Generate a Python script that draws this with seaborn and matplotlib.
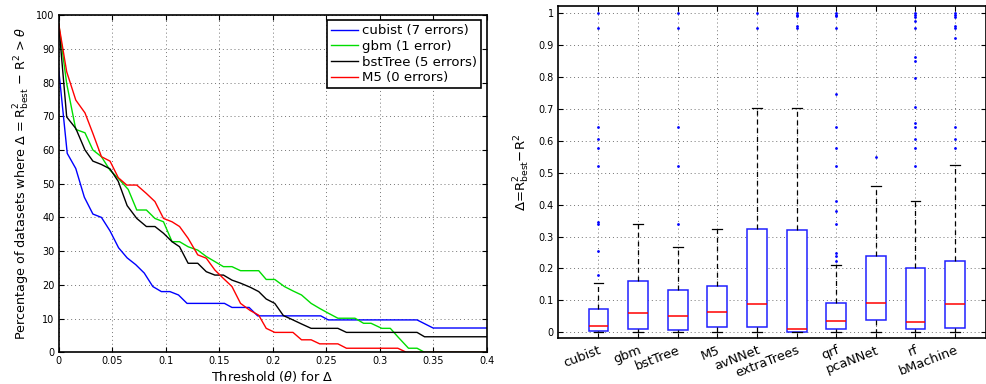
import numpy as np
import pandas as pd
import matplotlib
matplotlib.use('Agg')
import matplotlib.pyplot as plt
from matplotlib.ticker import FuncFormatter
import seaborn as sns

# ---- left panel: curves (threshold, % of datasets)
cubist_x = [0, 0.008, 0.016, 0.024, 0.032, 0.04, 0.048, 0.056, 0.064, 0.072, 0.08, 0.088, 0.096,
            0.104, 0.112, 0.12, 0.155, 0.162, 0.178, 0.186, 0.245, 0.252, 0.335, 0.35, 0.4]
cubist_y = [84, 59, 54.5, 46, 41, 40, 36, 31, 28, 26, 23.5, 19.5, 18,
            18, 17, 14.5, 14.5, 13.3, 13.3, 10.8, 10.8, 9.6, 9.6, 7.2, 7.2]

gbm_x = [0, 0.0075, 0.016, 0.0246, 0.032, 0.04, 0.048, 0.0557, 0.065, 0.073, 0.082, 0.09, 0.098,
         0.106, 0.113, 0.121, 0.13, 0.138, 0.146, 0.154, 0.162, 0.17, 0.187, 0.194, 0.202, 0.211,
         0.219, 0.227, 0.236, 0.244, 0.252, 0.261, 0.277, 0.285, 0.292, 0.302, 0.31, 0.317, 0.327,
         0.335, 0.342, 0.4]
gbm_y = [97.5, 79.7, 66.1, 65.1, 60, 58, 54, 51.6, 48.3, 42.2, 42.2, 39.7, 38.7,
         32.8, 32.8, 31.3, 30.3, 28.4, 26.9, 25.4, 25.4, 24.2, 24.2, 21.6, 21.6, 19.5,
         18.2, 17, 14.5, 13, 11.6, 10.1, 10.1, 8.6, 8.6, 7.1, 7.1, 4.6, 1.2,
         1.2, 0, 0]

bst_x = [0, 0.0075, 0.016, 0.0246, 0.032, 0.04, 0.048, 0.0557, 0.064, 0.073, 0.082, 0.09, 0.098,
         0.106, 0.113, 0.121, 0.13, 0.138, 0.146, 0.154, 0.162, 0.17, 0.179, 0.187, 0.194, 0.202,
         0.21, 0.219, 0.227, 0.236, 0.261, 0.269, 0.335, 0.342, 0.4]
bst_y = [97.5, 69.8, 66.4, 60, 56.7, 55.7, 54.4, 50.7, 43.5, 39.7, 37.3, 37.3, 35.3,
         32.8, 31.3, 26.4, 26.4, 23.9, 22.9, 22.9, 21.4, 20.5, 19.3, 18, 15.8, 14.5,
         10.9, 9.6, 8.4, 7.1, 7.1, 5.9, 5.9, 4.6, 4.6]

m5_x = [0, 0.0075, 0.016, 0.0246, 0.032, 0.04, 0.048, 0.0557, 0.0636, 0.073, 0.082, 0.09, 0.098,
        0.106, 0.113, 0.121, 0.13, 0.138, 0.146, 0.154, 0.162, 0.17, 0.179, 0.187, 0.194, 0.202,
        0.219, 0.227, 0.236, 0.244, 0.261, 0.269, 0.317, 0.325, 0.4]
m5_y = [97.5, 83.2, 74.8, 71, 64.9, 58, 56.7, 51.8, 49.6, 49.6, 47.1, 44.7, 39.7,
        38.7, 37.3, 33.8, 28.9, 27.9, 24.4, 21.9, 19.5, 14.5, 12.4, 11, 7.1, 5.9,
        5.9, 3.7, 3.7, 2.5, 2.5, 1.2, 1.2, 0, 0]

series_labels = ['cubist (7 errors)', 'gbm (1 error)', 'bstTree (5 errors)', 'M5 (0 errors)']
series_colors = ['#0000ff', '#00dd00', '#000000', '#ff0000']

# ---- right panel: box summaries
models = ['cubist', 'gbm', 'bstTree', 'M5', 'avNNet', 'extraTrees', 'qrf', 'pcaNNet', 'rf', 'bMachine']
whis_lo = [0, 0, 0, 0, 0, 0, 0, 0, 0, 0]
q1 = [0.003, 0.0115, 0.0073, 0.0167, 0.0167, 0.0, 0.0115, 0.0375, 0.0115, 0.0146]
med = [0.0198, 0.059, 0.052, 0.0625, 0.0875, 0.0105, 0.034, 0.0927, 0.031, 0.0875]
q3 = [0.074, 0.161, 0.132, 0.146, 0.325, 0.321, 0.0927, 0.24, 0.201, 0.224]
whis_hi = [0.156, 0.339, 0.267, 0.323, 0.704, 0.704, 0.21, 0.46, 0.41, 0.523]

outliers = {
    'cubist': [0.181, 0.255, 0.34, 0.345, 0.522, 0.579, 0.606, 0.644, 0.954, 1.0],
    'bstTree': [0.34, 0.522, 0.644, 0.954, 1.0],
    'avNNet': [0.954, 1.0],
    'extraTrees': [0.954, 0.96, 0.992, 0.996, 1.0],
    'qrf': [0.222, 0.24, 0.25, 0.34, 0.38, 0.41, 0.522, 0.579, 0.644, 0.746, 0.954, 0.992, 0.996, 1.0],
    'pcaNNet': [0.55],
    'rf': [0.522, 0.579, 0.606, 0.644, 0.655, 0.705, 0.797, 0.851, 0.862, 0.954, 0.977, 0.99, 0.995, 1.0],
    'bMachine': [0.579, 0.606, 0.644, 0.923, 0.954, 0.96, 0.99, 0.996, 1.0],
}

# long-form tables
curves = pd.concat([
    pd.DataFrame({'thr': x, 'pct': y, 'model': lab})
    for x, y, lab in zip([cubist_x, gbm_x, bst_x, m5_x], [cubist_y, gbm_y, bst_y, m5_y], series_labels)
])
body = pd.DataFrame({
    'model': np.repeat(models, 5),
    'delta': np.ravel(np.column_stack([whis_lo, q1, med, q3, whis_hi])),
})
flier = pd.DataFrame([(m, v) for m, vals in outliers.items() for v in vals], columns=['model', 'delta'])

plt.rcParams['font.family'] = ['DejaVu Sans']
plt.rcParams['mathtext.fontset'] = 'dejavusans'

fig = plt.figure(figsize=(9.86, 3.84), dpi=100)
ax1 = fig.add_axes([0.0595, 0.0826, 0.434, 0.878])
ax2 = fig.add_axes([0.566, 0.1198, 0.434, 0.8646])

sns.lineplot(data=curves, x='thr', y='pct', hue='model', hue_order=series_labels,
             palette=dict(zip(series_labels, series_colors)), estimator=None, sort=False,
             linewidth=1.0, ax=ax1)
ax1.set_xlim(0, 0.4)
ax1.set_ylim(0, 100)
ax1.set_xticks(np.arange(0, 0.401, 0.05))
ax1.set_yticks(np.arange(0, 101, 10))
ax1.xaxis.set_major_formatter(FuncFormatter(lambda v, p: '%g' % round(v, 3)))
ax1.set_xlabel(r'Threshold ($\theta$) for $\Delta$', fontsize=9.3, labelpad=2)
ax1.set_ylabel(r'Percentage of datasets where $\Delta$ = R$^2_{\rm best}$ $-$ R$^2$ > $\theta$',
               fontsize=9.2, labelpad=3)
leg = ax1.legend(loc='upper right', fontsize=9.5, frameon=True, fancybox=False, framealpha=1,
                 handlelength=2.1, borderaxespad=0.4, labelspacing=0.2, borderpad=0.3,
                 handletextpad=0.3)
leg.get_frame().set_edgecolor('black')
leg.get_frame().set_linewidth(1.2)

sns.boxplot(data=body, x='model', y='delta', order=models, whis=(0, 100), showfliers=False,
            width=0.5, color='white', linecolor='blue', linewidth=1.1,
            boxprops=dict(facecolor='white', edgecolor='#2020ff'),
            medianprops=dict(color='red', linewidth=1.1),
            whiskerprops=dict(color='black', linestyle=(0, (4, 3)), linewidth=0.9),
            capprops=dict(color='black', linewidth=0.9), ax=ax2)
sns.stripplot(data=flier, x='model', y='delta', order=models, jitter=False, color='blue',
              size=2, linewidth=0, ax=ax2)
ax2.set_xlim(-1.02, 9.78)
ax2.set_ylim(-0.018, 1.023)
ax2.set_yticks(np.arange(0, 1.01, 0.1))
ax2.yaxis.set_major_formatter(FuncFormatter(lambda v, p: '%g' % round(v, 2)))
ax2.set_xlabel('')
ax2.set_ylabel(r'$\Delta$=R$^2_{\rm best}$$-$R$^2$', fontsize=9.5, labelpad=5)
ax2.set_xticks(range(len(models)))
ax2.set_xticklabels(models, rotation=21, ha='right', rotation_mode='anchor', fontsize=9.3)

for ax in (ax1, ax2):
    ax.set_axisbelow(True)
    ax.grid(True, linestyle=(0, (1, 3)), color='0.45', linewidth=0.7)
    ax.tick_params(direction='in', top=True, right=True, length=3.5, width=0.8, labelsize=7, pad=3)
    for s in ax.spines.values():
        s.set_linewidth(1.2)
ax2.tick_params(axis='x', labelsize=9.3, pad=4)

fig.savefig('out.png', dpi=100)
